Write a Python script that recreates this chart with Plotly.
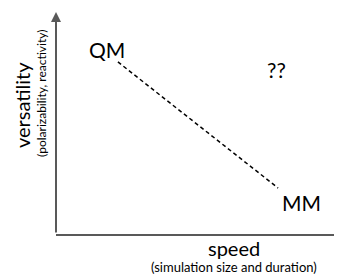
import plotly.graph_objects as go

# Conceptual data (axes run 0..1)
methods = ["QM", "MM"]
speed = [0.218, 0.782]
versatility = [0.775, 0.207]
label_x = [0.18, 0.866]
label_y = [0.833, 0.14]
unknown_label = "??"
unknown_xy = [0.778, 0.743]
x_title = "speed"
x_sub = "(simulation size and duration)"
y_title = "versatility"
y_sub = "(polarizability, reactivity)"

FONT = "Lato, Open Sans, sans-serif"
AX = "#595959"

fig = go.Figure()
fig.add_trace(go.Scatter(
    x=speed, y=versatility, mode="lines",
    line=dict(color="black", width=1.5, dash="4px,3px"),
    hoverinfo="skip", showlegend=False))

ann = []
for m, lx, ly in zip(methods, label_x, label_y):
    ann.append(dict(x=lx, y=ly, xref="x", yref="y", text=m, showarrow=False,
                    xanchor="center", yanchor="middle",
                    font=dict(family=FONT, size=21, color="black")))
ann.append(dict(x=unknown_xy[0], y=unknown_xy[1], xref="x", yref="y", text=unknown_label,
                showarrow=False, xanchor="center", yanchor="middle",
                font=dict(family=FONT, size=21, color="black")))
# y axis arrow
ann.append(dict(x=0, y=1, xref="x", yref="y", ax=0, ay=0, axref="x", ayref="y",
                showarrow=True, arrowhead=2, arrowsize=1, arrowwidth=2, arrowcolor=AX, text=""))
# axis titles
ann.append(dict(x=0.627, y=0, xref="paper", yref="paper", text=x_title, showarrow=False,
                xanchor="center", yanchor="middle",
                yshift=-14, font=dict(family=FONT, size=20, color="black")))
ann.append(dict(x=0.627, y=0, xref="paper", yref="paper", text=x_sub, showarrow=False,
                xanchor="center", yanchor="middle",
                yshift=-33, font=dict(family=FONT, size=13, color="black")))
ann.append(dict(x=0, y=0.581, xref="paper", yref="paper", text=y_title, showarrow=False,
                xanchor="center", yanchor="middle",
                xshift=-34, textangle=-90, font=dict(family=FONT, size=20, color="black")))
ann.append(dict(x=0, y=0.631, xref="paper", yref="paper", text=y_sub, showarrow=False,
                xanchor="center", yanchor="middle",
                xshift=-14, textangle=-90, font=dict(family=FONT, size=12, color="black")))

# page body has an 8px margin, so the figure is shifted up/left by 8px to compensate
fig.update_layout(
    width=342, height=275,
    margin=dict(l=48, r=10, t=4, b=49),
    paper_bgcolor="white", plot_bgcolor="white",
    annotations=ann,
    xaxis=dict(range=[0, 1], showgrid=False, zeroline=False, showticklabels=False,
               ticks="", showline=True, linecolor=AX, linewidth=2),
    yaxis=dict(range=[0, 1], showgrid=False, zeroline=False, showticklabels=False,
               ticks="", showline=False),
)
fig.write_html("out.html")
